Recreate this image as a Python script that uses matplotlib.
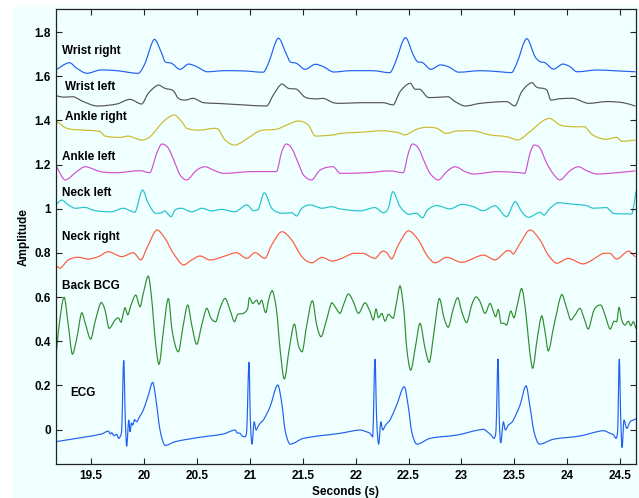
import matplotlib
matplotlib.use('Agg')
import matplotlib.pyplot as plt
from matplotlib.patches import Rectangle, PathPatch
from matplotlib.path import Path
from matplotlib.ticker import FuncFormatter

plt.rcParams['font.family'] = ['Liberation Sans', 'DejaVu Sans']

# ---------------- data (seconds, amplitude) ----------------
wrist_right_t = [19.165,19.294,19.364,19.458,19.584,19.742,19.946,20.009,20.097,20.167,20.198,20.262,20.340,20.419,20.498,20.593,20.750,20.939,21.128,21.175,21.269,21.349,21.380,21.443,21.522,21.616,21.695,21.789,21.947,22.165,22.325,22.372,22.470,22.545,22.583,22.634,22.710,22.798,22.876,22.971,23.176,23.365,23.475,23.523,23.617,23.696,23.743,23.790,23.869,23.957,24.027,24.090,24.279,24.468,24.641]
wrist_right_v = [1.628,1.661,1.636,1.613,1.628,1.625,1.613,1.658,1.767,1.704,1.666,1.658,1.631,1.655,1.643,1.620,1.625,1.624,1.618,1.658,1.772,1.696,1.666,1.658,1.631,1.654,1.643,1.619,1.625,1.625,1.616,1.658,1.775,1.696,1.666,1.661,1.631,1.651,1.643,1.618,1.625,1.620,1.616,1.658,1.770,1.688,1.666,1.661,1.632,1.655,1.643,1.620,1.628,1.624,1.620]

wrist_left_t = [19.165,19.237,19.332,19.426,19.553,19.742,19.868,19.978,20.041,20.135,20.198,20.277,20.324,20.388,20.466,20.560,20.687,20.939,21.160,21.222,21.302,21.364,21.443,21.522,21.632,21.695,21.789,21.853,22.042,22.262,22.356,22.420,22.514,22.561,22.609,22.687,22.798,22.876,22.940,23.034,23.176,23.428,23.507,23.570,23.665,23.712,23.806,23.844,23.932,24.058,24.199,24.373,24.530,24.641]
wrist_left_v = [1.512,1.505,1.507,1.485,1.465,1.474,1.495,1.474,1.523,1.560,1.545,1.534,1.500,1.492,1.500,1.480,1.477,1.470,1.465,1.515,1.565,1.545,1.541,1.505,1.497,1.500,1.480,1.477,1.480,1.480,1.470,1.530,1.568,1.541,1.541,1.503,1.505,1.507,1.485,1.465,1.477,1.485,1.465,1.530,1.571,1.550,1.538,1.492,1.498,1.500,1.477,1.485,1.480,1.465]

ankle_right_t = [19.165,19.269,19.426,19.584,19.631,19.773,19.852,19.978,20.057,20.182,20.286,20.356,20.404,20.529,20.655,20.702,20.766,20.860,21.002,21.096,21.254,21.349,21.458,21.553,21.616,21.789,21.853,22.042,22.262,22.404,22.467,22.578,22.672,22.767,22.854,22.956,23.113,23.270,23.428,23.538,23.648,23.774,23.837,23.932,24.058,24.168,24.232,24.357,24.468,24.515,24.641]
ankle_right_v = [1.399,1.364,1.356,1.349,1.329,1.323,1.329,1.311,1.326,1.394,1.424,1.394,1.364,1.356,1.364,1.360,1.311,1.288,1.326,1.353,1.360,1.379,1.397,1.379,1.329,1.334,1.341,1.346,1.353,1.344,1.334,1.360,1.369,1.364,1.341,1.352,1.353,1.334,1.326,1.311,1.349,1.399,1.409,1.379,1.371,1.371,1.337,1.314,1.323,1.305,1.311]

ankle_left_t = [19.165,19.253,19.364,19.442,19.584,19.742,19.962,20.057,20.120,20.167,20.230,20.293,20.340,20.404,20.498,20.577,20.655,20.750,21.002,21.191,21.254,21.302,21.342,21.396,21.458,21.506,21.585,21.664,21.789,21.853,22.105,22.325,22.451,22.498,22.536,22.593,22.656,22.703,22.782,22.861,22.940,23.034,23.113,23.334,23.554,23.601,23.648,23.686,23.743,23.806,23.869,23.932,24.027,24.105,24.184,24.279,24.468,24.641]
ankle_left_v = [1.198,1.130,1.168,1.190,1.168,1.163,1.172,1.163,1.251,1.293,1.274,1.206,1.153,1.130,1.175,1.190,1.175,1.160,1.168,1.168,1.168,1.258,1.293,1.274,1.206,1.153,1.130,1.175,1.190,1.160,1.163,1.171,1.163,1.251,1.293,1.274,1.206,1.160,1.130,1.168,1.190,1.168,1.157,1.168,1.163,1.160,1.251,1.288,1.274,1.206,1.157,1.130,1.172,1.190,1.172,1.157,1.163,1.171]

neck_left_t = [19.165,19.222,19.284,19.348,19.442,19.537,19.695,19.804,19.915,19.984,20.041,20.104,20.167,20.198,20.255,20.293,20.356,20.451,20.545,20.640,20.734,20.860,20.971,21.033,21.080,21.137,21.207,21.302,21.396,21.443,21.491,21.569,21.680,21.774,21.853,22.042,22.183,22.262,22.309,22.351,22.420,22.498,22.578,22.634,22.678,22.767,22.892,23.003,23.113,23.207,23.318,23.428,23.507,23.570,23.632,23.743,23.781,23.837,23.916,24.058,24.184,24.247,24.373,24.436,24.594,24.615,24.650]
neck_left_v = [1.017,1.039,1.017,1.002,1.006,0.991,0.986,1.002,0.984,1.085,1.024,0.979,0.982,0.990,0.964,0.994,1.002,0.986,1.002,0.990,0.997,0.986,1.017,0.991,0.997,1.072,1.002,0.979,0.982,0.967,1.002,1.017,1.002,1.009,0.999,0.990,1.005,0.982,1.002,1.077,1.009,0.975,0.979,0.959,0.994,1.014,0.999,1.020,1.009,0.991,1.014,0.964,1.032,0.986,0.961,0.984,0.971,1.002,1.027,1.020,1.014,1.002,1.005,0.979,0.976,0.979,1.077]

neck_right_t = [19.165,19.206,19.284,19.379,19.474,19.568,19.663,19.789,19.899,19.972,20.026,20.120,20.198,20.277,20.371,20.451,20.529,20.624,20.766,20.876,20.971,21.049,21.144,21.207,21.302,21.396,21.491,21.585,21.680,21.774,21.853,21.978,22.073,22.183,22.252,22.294,22.341,22.404,22.498,22.593,22.672,22.750,22.861,23.003,23.207,23.318,23.428,23.459,23.491,23.554,23.648,23.743,23.821,23.901,24.010,24.152,24.341,24.405,24.468,24.578,24.641]
neck_right_v = [0.745,0.730,0.768,0.780,0.772,0.783,0.805,0.783,0.801,0.768,0.821,0.904,0.866,0.798,0.745,0.768,0.786,0.768,0.786,0.801,0.775,0.801,0.775,0.836,0.896,0.858,0.783,0.755,0.780,0.763,0.772,0.798,0.798,0.775,0.808,0.801,0.772,0.836,0.900,0.858,0.790,0.755,0.780,0.757,0.790,0.768,0.810,0.810,0.795,0.843,0.904,0.858,0.790,0.753,0.775,0.750,0.798,0.798,0.772,0.808,0.783]

back_bcg = [
    (19.165,0.307),(19.190,0.443),(19.244,0.599),(19.284,0.473),(19.322,0.341),(19.364,0.413),
    (19.411,0.529),(19.449,0.473),(19.496,0.409),(19.537,0.488),(19.594,0.576),(19.631,0.541),
    (19.669,0.458),(19.726,0.496),(19.757,0.506),(19.783,0.486),(19.820,0.552),(19.846,0.519),
    (19.877,0.564),(19.922,0.609),(19.962,0.556),(19.993,0.617),(20.041,0.695),(20.078,0.564),
    (20.104,0.413),(20.142,0.295),(20.182,0.443),(20.230,0.593),(20.267,0.443),(20.324,0.352),
    (20.371,0.473),(20.413,0.564),(20.451,0.473),(20.498,0.386),(20.545,0.473),(20.593,0.549),
    (20.633,0.504),(20.678,0.488),(20.718,0.549),(20.766,0.594),(20.813,0.541),(20.854,0.488),
    (20.886,0.522),(20.939,0.526),(20.980,0.549),(20.995,0.597),(21.027,0.571),(21.065,0.586),
    (21.087,0.567),(21.112,0.586),(21.150,0.529),(21.181,0.594),(21.213,0.629),(21.254,0.534),
    (21.285,0.368),(21.326,0.229),(21.373,0.368),(21.421,0.478),(21.458,0.383),(21.496,0.352),
    (21.538,0.473),(21.591,0.583),(21.632,0.473),(21.673,0.420),(21.720,0.488),(21.774,0.574),
    (21.815,0.549),(21.853,0.526),(21.890,0.571),(21.931,0.614),(21.978,0.579),(22.026,0.526),
    (22.089,0.574),(22.136,0.534),(22.167,0.496),(22.193,0.546),(22.215,0.506),(22.247,0.526),
    (22.278,0.491),(22.309,0.522),(22.356,0.504),(22.388,0.579),(22.420,0.651),(22.457,0.534),
    (22.483,0.368),(22.521,0.269),(22.568,0.383),(22.609,0.481),(22.656,0.368),(22.697,0.304),
    (22.741,0.443),(22.791,0.594),(22.836,0.504),(22.876,0.463),(22.924,0.549),(22.965,0.597),
    (23.003,0.534),(23.050,0.484),(23.097,0.564),(23.138,0.601),(23.176,0.579),(23.223,0.526),
    (23.270,0.571),(23.302,0.534),(23.324,0.511),(23.349,0.544),(23.374,0.481),(23.403,0.481),
    (23.428,0.473),(23.466,0.537),(23.497,0.506),(23.528,0.564),(23.570,0.639),(23.611,0.519),
    (23.642,0.368),(23.674,0.277),(23.717,0.413),(23.759,0.515),(23.790,0.443),(23.821,0.356),
    (23.875,0.473),(23.948,0.612),(23.995,0.549),(24.033,0.496),(24.074,0.519),(24.121,0.549),
    (24.159,0.504),(24.199,0.455),(24.253,0.541),(24.317,0.564),(24.357,0.519),(24.405,0.455),
    (24.442,0.491),(24.468,0.488),(24.490,0.553),(24.515,0.496),(24.546,0.473),(24.578,0.491),
    (24.600,0.470),(24.625,0.488),(24.650,0.458)]

ecg = [
    (19.165,-0.055),(19.426,-0.035),(19.600,-0.020),(19.663,-0.007),(19.680,-0.020),(19.695,-0.014),
    (19.715,-0.028),(19.742,-0.022),(19.760,-0.040),(19.773,-0.033),(19.789,-0.002),(19.808,0.312),
    (19.823,0.043),(19.836,-0.075),(19.855,0.043),(19.868,-0.010),(19.880,0.030),(19.893,0.020),
    (19.910,0.045),(19.931,0.035),(19.960,0.060),(19.993,0.088),(20.041,0.156),(20.082,0.214),
    (20.113,0.134),(20.151,-0.002),(20.198,-0.072),(20.293,-0.055),(20.529,-0.035),(20.750,-0.020),
    (20.860,-0.002),(20.880,-0.015),(20.907,-0.017),(20.930,-0.030),(20.955,-0.033),(20.971,-0.002),
    (20.992,0.304),(21.005,0.043),(21.021,-0.066),(21.040,0.035),(21.059,-0.002),(21.080,0.016),
    (21.100,0.030),(21.128,0.043),(21.191,0.103),(21.264,0.202),(21.302,0.119),(21.333,-0.002),
    (21.380,-0.066),(21.506,-0.040),(21.853,-0.017),(22.042,-0.002),(22.100,-0.010),(22.136,-0.017),
    (22.162,-0.033),(22.183,0.318),(22.199,0.043),(22.218,-0.066),(22.237,0.035),(22.256,-0.002),
    (22.278,0.016),(22.300,0.030),(22.325,0.043),(22.388,0.111),(22.460,0.194),(22.498,0.103),
    (22.530,-0.010),(22.578,-0.066),(22.703,-0.040),(22.956,-0.025),(23.207,0.001),(23.254,-0.014),
    (23.280,-0.025),(23.308,-0.040),(23.327,-0.002),(23.346,0.319),(23.358,0.043),(23.371,-0.060),
    (23.396,0.035),(23.415,-0.002),(23.443,0.020),(23.470,0.030),(23.491,0.043),(23.554,0.111),
    (23.611,0.198),(23.648,0.103),(23.686,-0.010),(23.736,-0.066),(23.869,-0.044),(24.121,-0.029),
    (24.341,-0.005),(24.405,-0.017),(24.440,-0.025),(24.461,-0.040),(24.477,-0.002),(24.492,0.318),
    (24.506,0.043),(24.518,-0.081),(24.536,0.043),(24.562,0.005),(24.594,0.035),(24.625,0.043),
    (24.650,0.048)]

trace_labels = ['Wrist right', 'Wrist left', 'Ankle right', 'Ankle left',
                'Neck left', 'Neck right', 'Back BCG', 'ECG']
label_pos = [(19.228, 1.716), (19.253, 1.553), (19.253, 1.414), (19.228, 1.233),
             (19.222, 1.072), (19.222, 0.873), (19.222, 0.651), (19.307, 0.167)]
colors = ['#2060F0', '#555555', '#CDBA2A', '#D150D0',
          '#22C4CC', '#FF5A3C', '#2E8E2E', '#2060F0']

x_ticks = [19.5, 20, 20.5, 21, 21.5, 22, 22.5, 23, 23.5, 24, 24.5]
y_ticks = [0, 0.2, 0.4, 0.6, 0.8, 1.0, 1.2, 1.4, 1.6, 1.8]


def smooth_path(t, v):
    """Smooth (monotone-clamped cubic Bezier) line through the given points."""
    n = len(t)
    verts = [(t[0], v[0])]
    codes = [Path.MOVETO]
    for i in range(n - 1):
        i0, i3 = max(i - 1, 0), min(i + 2, n - 1)
        t1, v1, t2, v2 = t[i], v[i], t[i + 1], v[i + 1]
        h = t2 - t1
        m1 = (v2 - v[i0]) / (t2 - t[i0]) if t2 != t[i0] else 0.0
        m2 = (v[i3] - v1) / (t[i3] - t1) if t[i3] != t1 else 0.0
        lo, hi = min(v1, v2), max(v1, v2)
        c1 = (t1 + h / 3, min(max(v1 + m1 * h / 3, lo), hi))
        c2 = (t2 - h / 3, min(max(v2 - m2 * h / 3, lo), hi))
        verts += [c1, c2, (t2, v2)]
        codes += [Path.CURVE4, Path.CURVE4, Path.CURVE4]
    return Path(verts, codes)


# ---------------- figure ----------------
W, H = 639, 498
fig = plt.figure(figsize=(W / 100, H / 100), dpi=100, facecolor='white')
fig.patches.append(Rectangle((13 / W, 0), 1, 1 - 7 / H, transform=fig.transFigure,
                             facecolor='#F0FFFF', edgecolor='none', zorder=-10))
ax = fig.add_axes([55.7 / W, 1 - 464 / H, (636 - 55.7) / W, (464 - 9.5) / H])
ax.set_facecolor('#F0FFFF')

series = [
    (wrist_right_t, wrist_right_v),
    (wrist_left_t, wrist_left_v),
    (ankle_right_t, ankle_right_v),
    (ankle_left_t, ankle_left_v),
    (neck_left_t, neck_left_v),
    (neck_right_t, neck_right_v),
    ([p[0] for p in back_bcg], [p[1] for p in back_bcg]),
    ([p[0] for p in ecg], [p[1] for p in ecg]),
]
for (t, v), c, name in zip(series, colors, trace_labels):
    ax.add_patch(PathPatch(smooth_path(t, v), facecolor='none', edgecolor=c,
                           lw=0.85, joinstyle='round', capstyle='round', label=name))

for name, (tx, ty) in zip(trace_labels, label_pos):
    ax.text(tx, ty, name, ha='left', va='center', fontsize=8.5,
            fontweight='bold', color='black')

ax.set_xlim(19.165, 24.65)
ax.set_ylim(-0.156, 1.902)
ax.set_xticks(x_ticks)
ax.set_yticks(y_ticks)
fmt = FuncFormatter(lambda val, pos: '%g' % round(val, 2))
ax.xaxis.set_major_formatter(fmt)
ax.yaxis.set_major_formatter(fmt)
ax.tick_params(direction='in', top=True, right=True, length=4.5, width=0.8,
               labelsize=8.5, colors='#222222')
ax.tick_params(axis='x', pad=4.5)
ax.tick_params(axis='y', pad=3.5)
for lab in ax.get_xticklabels() + ax.get_yticklabels():
    lab.set_fontweight('bold')
    lab.set_color('black')
for s in ax.spines.values():
    s.set_color('#222222')
    s.set_linewidth(0.9)

fig.text((55.7 + 636) / 2 / W, 1 - 491.5 / H, 'Seconds (s)', ha='center', va='center',
         fontsize=8.5, fontweight='bold')
fig.text(24 / W, 1 - 236.7 / H, 'Amplitude', ha='center', va='center', rotation=90,
         fontsize=8.5, fontweight='bold')

fig.savefig('out.png', dpi=100, facecolor=fig.get_facecolor())
